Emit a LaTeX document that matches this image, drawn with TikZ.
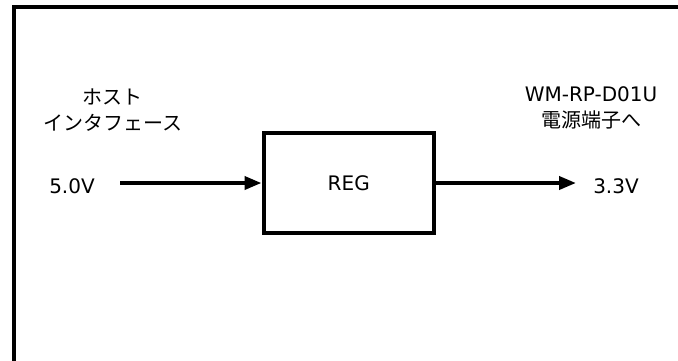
\documentclass[tikz,border=0pt]{standalone}
\usepackage{fontspec}
\setmainfont{DejaVu Sans}
\newfontfamily\jpfont{Noto Sans CJK JP}
\usetikzlibrary{arrows.meta}
\tikzset{
  lbl/.style={inner sep=0pt, font=\fontsize{20}{26}\selectfont, align=center},
  regbox/.style={draw, line width=4pt, minimum width=170.5pt, minimum height=100pt, inner sep=0pt, font=\fontsize{20}{26}\selectfont},
  sig/.style={line width=3.8pt, -{Triangle[length=17pt,width=13pt]}},
  frame/.style={line width=4pt}
}
\begin{document}
\begin{tikzpicture}[x=1pt,y=-1pt]
\useasboundingbox (0,0) rectangle (678,360);
\clip (0,0) rectangle (678,360);
\fill[white] (0,0) rectangle (678,360);
% frame (left and top edges visible)
\coordinate (fbl) at (13.5,370);
\coordinate (ftr) at (690,7.3);
\draw[frame] (fbl) |- (ftr);
% regulator
\node[regbox] (reg) at (348.75,183) {\raisebox{-3pt}{REG}};
% labels
\node[lbl] (host) at (113,110) {\jpfont ホスト\\\jpfont インタフェース};
\node[lbl] (dest) at (591,108) {WM-RP-D01U\\\jpfont 電源端子へ};
\node[lbl] (vin) at (72,186.5) {5.0V};
\node[lbl] (vout) at (616,186.5) {3.3V};
% connectors
\coordinate (inS) at (120,183);
\coordinate (outE) at (576,183);
\draw[sig] (inS) -- (reg.west);
\draw[sig] (reg.east) -- (outE);
\end{tikzpicture}
\end{document}
